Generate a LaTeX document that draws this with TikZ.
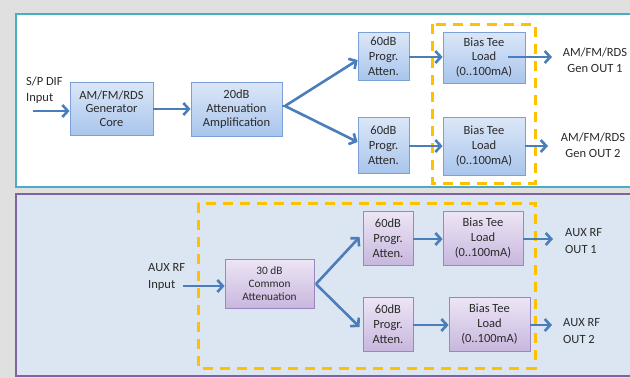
\documentclass[tikz,border=0pt]{standalone}
\usepackage{fontspec}
\setmainfont{Carlito}
\usetikzlibrary{arrows.meta,shadows}
\definecolor{bgc}{HTML}{E0E0E0}
\definecolor{teal}{HTML}{4BACC6}
\definecolor{lowfill}{HTML}{DCE6F2}
\definecolor{lowborder}{HTML}{8064A2}
\definecolor{blueborder}{HTML}{7BA0D5}
\definecolor{bluetop}{HTML}{DCE7F8}
\definecolor{bluebot}{HTML}{A9C5EC}
\definecolor{purpborder}{HTML}{9B86BF}
\definecolor{purptop}{HTML}{EDE6F5}
\definecolor{purpbot}{HTML}{C8B7DE}
\definecolor{arrowc}{HTML}{4A7EBB}
\definecolor{dashy}{HTML}{FFC000}
\definecolor{txt}{HTML}{2A2A2A}
\begin{document}
\begin{tikzpicture}[x=1pt,y=-1pt,
  boxbase/.style={rectangle, line width=0.8pt, align=center, inner sep=0pt, text=txt,
    drop shadow={opacity=0.25, shadow xshift=1.2pt, shadow yshift=-1.2pt},
    font=\fontsize{12.5}{14.8}\selectfont},
  bluebox/.style={boxbase, draw=blueborder, top color=bluetop, bottom color=bluebot},
  purpbox/.style={boxbase, draw=purpborder, top color=purptop, bottom color=purpbot},
  arr/.style={draw=arrowc, line width=2.6pt, -{Straight Barb[length=5.5pt,width=12pt]}},
  brd/.style={draw=arrowc, line width=2.6pt},
  lbl/.style={text=txt, inner sep=0pt, font=\fontsize{12.5}{16.5}\selectfont},
  yel/.style={draw=dashy, line width=3pt, dash pattern=on 10pt off 7pt}]
\useasboundingbox (0,0) rectangle (630,378);
\fill[bgc] (0,0) rectangle (630,378);
% panels
\draw[teal, fill=white, line width=2.5pt] (16,14) rectangle (645,187);
\draw[lowborder, fill=lowfill, line width=2.5pt] (16,194) rectangle (645,376);

% ---------- top panel ----------
\draw[yel] (432,24) rectangle (535,183);
\node[bluebox, minimum width=83pt, minimum height=53pt, font=\fontsize{12.5}{13.7}\selectfont] (gen) at (111.5,108.5) {AM/FM/RDS\\Generator\\Core};
\node[bluebox, minimum width=91pt, minimum height=54pt, font=\fontsize{12.5}{13.7}\selectfont] (att) at (236.5,109) {20dB\\Attenuation\\Amplification};
\node[bluebox, minimum width=51pt, minimum height=48pt] (p1) at (383.5,56) {60dB\\Progr.\\Atten.};
\node[bluebox, minimum width=51pt, minimum height=56pt] (p2) at (383.5,145) {60dB\\Progr.\\Atten.};
\node[bluebox, minimum width=82pt, minimum height=51pt] (bt1) at (484,57.5) {Bias Tee\\Load\\(0..100mA)};
\node[bluebox, minimum width=82pt, minimum height=58pt] (bt2) at (484,146) {Bias Tee\\Load\\(0..100mA)};

\node[lbl, align=left, anchor=west] (inA) at (26,90) {S/P DIF\\Input};
\node[lbl, align=center] (outA1) at (595,60) {AM/FM/RDS\\Gen OUT 1};
\node[lbl, align=center] (outA2) at (593,145) {AM/FM/RDS\\Gen OUT 2};

\coordinate (sA) at (33,111);
\coordinate (brA) at (285,106);
\coordinate (eA1) at (552,57);
\coordinate (eA2) at (548,146);
\draw[arr] (sA) -- (gen.west |- sA);
\draw[arr] (gen.east |- 0,109) -- (att.west |- 0,109);
\draw[brd] (att.east |- brA) -- (brA);
\draw[arr] (brA) -- ([yshift=-4pt]p1.west);
\draw[arr] (brA) -- ([yshift=3pt]p2.west);
\draw[arr] (p1.east |- 0,57) -- (bt1.west |- 0,57);
\draw[arr] (p2.east |- 0,146) -- (bt2.west |- 0,146);
\draw[arr] ([xshift=-17pt]bt1.east |- eA1) -- (eA1);
\draw[arr] (bt2.east |- eA2) -- (eA2);

% ---------- bottom panel ----------
\draw[yel] (198,203) rectangle (535,368);
\node[purpbox, minimum width=89pt, minimum height=49pt, font=\fontsize{11.3}{13.3}\selectfont] (c30) at (269.5,283.5) {30 dB\\Common\\Attenuation};
\node[purpbox, minimum width=50pt, minimum height=54pt] (q1) at (388,238) {60dB\\Progr.\\Atten.};
\node[purpbox, minimum width=50pt, minimum height=54pt] (q2) at (388,324) {60dB\\Progr.\\Atten.};
\node[purpbox, minimum width=80pt, minimum height=54pt] (bb1) at (483,238) {Bias Tee\\Load\\(0..100mA)};
\node[purpbox, minimum width=81pt, minimum height=54pt] (bb2) at (489.5,324) {Bias Tee\\Load\\(0..100mA)};

\node[lbl, align=left, anchor=west] (inB) at (148,277) {AUX RF\\Input};
\node[lbl, align=left, anchor=west] (outB1) at (565,241) {AUX RF\\OUT 1};
\node[lbl, align=left, anchor=west] (outB2) at (563,331) {AUX RF\\OUT 2};

\coordinate (sB) at (183,286);
\coordinate (brB) at (316,284);
\coordinate (eB1) at (553,239);
\coordinate (eB2) at (552,325);
\draw[arr] (sB) -- (c30.west |- sB);
\draw[arr] (brB) -- ([yshift=1pt,xshift=-3pt]q1.west);
\draw[arr] (brB) -- ([yshift=-3pt,xshift=-3pt]q2.west);
\draw[arr] (q1.east |- 0,239) -- (bb1.west |- 0,239);
\draw[arr] (q2.east |- 0,325) -- (bb2.west |- 0,325);
\draw[arr] (bb1.east |- eB1) -- (eB1);
\draw[arr] (bb2.east |- eB2) -- (eB2);
\end{tikzpicture}
\end{document}
